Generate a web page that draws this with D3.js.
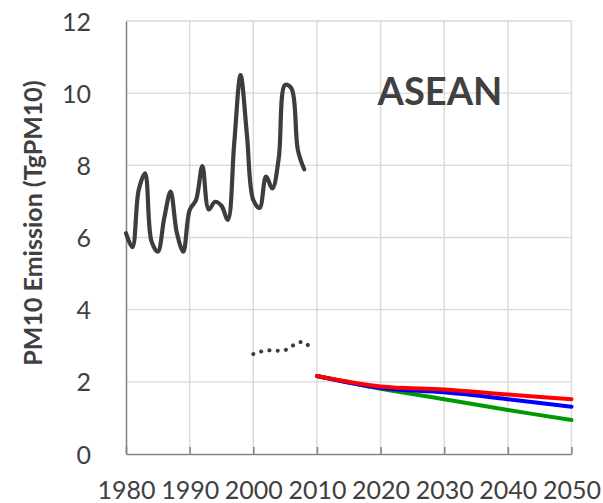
<!DOCTYPE html>
<html>
<head>
<meta charset="utf-8">
<script src="https://cdn.jsdelivr.net/npm/d3@7"></script>
<style>
  html, body { margin: 0; padding: 0; background: #fff; }
  svg { display: block; }
  text { font-family: Lato, "Open Sans", "DejaVu Sans", sans-serif; fill: #404040; }
</style>
</head>
<body>
<svg id="chart" width="603" height="503"></svg>
<script>
// Historical annual PM10 emission, 1980-2008 (Tg)
const histYears = d3.range(1980, 2009);
const histValues = [6.12, 5.73, 7.32, 7.78, 5.9, 5.61, 6.53, 7.27, 6.12, 5.61,
                    6.76, 7.04, 7.98, 6.78, 6.99, 6.88, 6.49, 8.6, 10.5, 8.85,
                    7.04, 6.82, 7.69, 7.36, 8.2, 10.23, 10.13, 8.43, 7.89];

// Second inventory estimate, 2000-2009 (dotted)
const altYears = d3.range(2000, 2010);
const altValues = [2.77, 2.83, 2.87, 2.87, 2.86, 2.88, 2.98, 3.08, 3.1, 2.93];

// Scenario projections 2010-2050
const projYears = [2010, 2020, 2030, 2040, 2050];
const greenValues = [2.16, 1.81, 1.52, 1.22, 0.94];
const blueValues  = [2.16, 1.83, 1.71, 1.52, 1.31];
const redValues   = [2.16, 1.87, 1.79, 1.65, 1.52];

const xTicks = [1980, 1990, 2000, 2010, 2020, 2030, 2040, 2050];
const yTicks = [0, 2, 4, 6, 8, 10, 12];
const titleText = "ASEAN";
const yTitle = "PM10 Emission (TgPM10)";

const svg = d3.select("#chart");
const plotLeft = 126, plotRight = 571.5, plotTop = 21, plotBottom = 454;

const x = d3.scaleLinear().domain([1980, 2050]).range([plotLeft, plotRight]);
const y = d3.scaleLinear().domain([0, 12]).range([plotBottom, plotTop]);

// Gridlines
const grid = svg.append("g").attr("stroke", "#d9d9d9").attr("stroke-width", 1.4);
grid.selectAll("line.v").data(xTicks.slice(1)).join("line")
  .attr("class", "v")
  .attr("x1", d => x(d)).attr("x2", d => x(d))
  .attr("y1", y(12)).attr("y2", y(0));
grid.selectAll("line.h").data(yTicks.slice(1)).join("line")
  .attr("class", "h")
  .attr("x1", x(1980)).attr("x2", x(2050))
  .attr("y1", d => y(d)).attr("y2", d => y(d));

// X axis (ticks point inward)
const xAxis = svg.append("g")
  .attr("transform", `translate(0,${plotBottom})`)
  .call(d3.axisBottom(x).tickValues(xTicks).tickFormat(d3.format("d"))
        .tickSizeInner(-7).tickSizeOuter(0));
xAxis.attr("font-family", null).attr("font-size", null);
xAxis.select(".domain").attr("stroke", "#868686").attr("stroke-width", 1.6);
xAxis.selectAll(".tick line").attr("stroke", "#868686").attr("stroke-width", 1.6);
xAxis.selectAll(".tick text")
  .attr("y", 36).attr("dy", "0.36em")
  .style("font-size", "25px").style("fill", "#404040");

// Y axis (line only, labels to the left)
const yAxis = svg.append("g")
  .attr("transform", `translate(${plotLeft},0)`)
  .call(d3.axisLeft(y).tickValues(yTicks).tickFormat(d3.format("d"))
        .tickSize(0).tickPadding(35));
yAxis.attr("font-family", null).attr("font-size", null);
yAxis.select(".domain").attr("stroke", "#868686").attr("stroke-width", 1.6);
yAxis.selectAll(".tick text")
  .attr("dy", "0.36em")
  .style("font-size", "25px").style("fill", "#404040");

// Axis title
svg.append("text")
  .attr("transform", `translate(42,${(83 + 363) / 2}) rotate(-90)`)
  .attr("text-anchor", "middle")
  .style("font-size", "25px").style("font-weight", "bold")
  .text(yTitle);

// Region label
svg.append("text")
  .attr("x", 440).attr("y", 105)
  .attr("text-anchor", "middle")
  .style("font-size", "38px").style("font-weight", "bold")
  .text(titleText);

const smooth = d3.line()
  .x(d => x(d[0])).y(d => y(d[1]))
  .curve(d3.curveCatmullRom.alpha(0.5));

// Historical series
svg.append("path")
  .datum(d3.zip(histYears, histValues))
  .attr("d", smooth)
  .attr("fill", "none").attr("stroke", "#3d3d3d")
  .attr("stroke-width", 4.2).attr("stroke-linejoin", "round").attr("stroke-linecap", "round");

// Dotted inventory series
svg.append("path")
  .datum(d3.zip(altYears, altValues))
  .attr("d", smooth)
  .attr("fill", "none").attr("stroke", "#3d3d3d")
  .attr("stroke-width", 4).attr("stroke-linecap", "round")
  .attr("stroke-dasharray", "0.1,8.2");

// Projections
const proj = [
  { values: greenValues, color: "#009900" },
  { values: blueValues,  color: "#0000ff" },
  { values: redValues,   color: "#ff0000" }
];
proj.forEach(p => {
  svg.append("path")
    .datum(d3.zip(projYears, p.values))
    .attr("d", smooth)
    .attr("fill", "none").attr("stroke", p.color)
    .attr("stroke-width", 4).attr("stroke-linejoin", "round").attr("stroke-linecap", "round");
});
</script>
</body>
</html>
